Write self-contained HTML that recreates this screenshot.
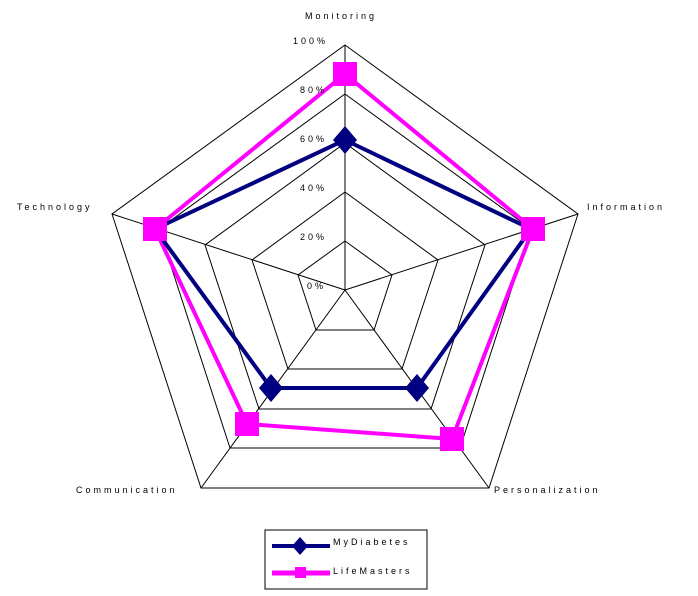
<!DOCTYPE html>
<html><head><style>body{margin:0;background:#fff}svg{display:block}text{font-family:"Liberation Sans",sans-serif;font-size:9px;letter-spacing:3px;fill:#000}</style></head>
<body>
<svg width="698" height="596" viewBox="0 0 698 596" xmlns="http://www.w3.org/2000/svg">
<g stroke="#000" stroke-width="1" fill="none">
<polygon points="345,45 578,214 489,488 201,488 112,214"/>
<polygon points="345,94 531,229 460,448 230,448 159,229"/>
<polygon points="345,143 485,245 431,409 259,409 205,245"/>
<polygon points="345,192 438,260 402,369 288,369 252,260"/>
<polygon points="345,241 392,275 374,330 316,330 298,275"/>
<line x1="345" y1="290" x2="345" y2="45"/>
<line x1="345" y1="290" x2="578" y2="214"/>
<line x1="345" y1="290" x2="489" y2="488"/>
<line x1="345" y1="290" x2="201" y2="488"/>
<line x1="345" y1="290" x2="112" y2="214"/>
</g>
<polygon points="345,74 533,229 452,439 247,424 155,229" fill="none" stroke="#ff00ff" stroke-width="4"/>
<polygon points="345,140 531,229 417,388 271,388 155,229" fill="none" stroke="#000080" stroke-width="4"/>
<g fill="#000080">
<polygon points="345,126 357,140 345,154 333,140"/>
<polygon points="417,374 429,388 417,402 405,388"/>
<polygon points="271,374 283,388 271,402 259,388"/>
</g>
<g fill="#ff00ff">
<rect x="333" y="62" width="24" height="24"/>
<rect x="521" y="217" width="24" height="24"/>
<rect x="440" y="427" width="24" height="24"/>
<rect x="235" y="412" width="24" height="24"/>
<rect x="143" y="217" width="24" height="24"/>
</g>
<rect x="265" y="530" width="162" height="59" fill="#fff" stroke="#000"/>
<line x1="272" y1="546" x2="330" y2="546" stroke="#000080" stroke-width="4"/>
<polygon points="300,537 308,546 300,555 292,546" fill="#000080"/>
<line x1="272" y1="573" x2="330" y2="573" stroke="#ff00ff" stroke-width="5"/>
<rect x="295" y="567" width="11" height="11" fill="#ff00ff"/>
<text x="333" y="545">MyDiabetes</text>
<text x="333" y="574">LifeMasters</text>
<text x="305" y="19">Monitoring</text>
<text x="587" y="210">Information</text>
<text x="494" y="493">Personalization</text>
<text x="76" y="493">Communication</text>
<text x="17" y="210">Technology</text>
<text x="293" y="44">100%</text>
<text x="300" y="93">80%</text>
<text x="300" y="142">60%</text>
<text x="300" y="191">40%</text>
<text x="300" y="240">20%</text>
<text x="307" y="289">0%</text>
</svg>
</body></html>
